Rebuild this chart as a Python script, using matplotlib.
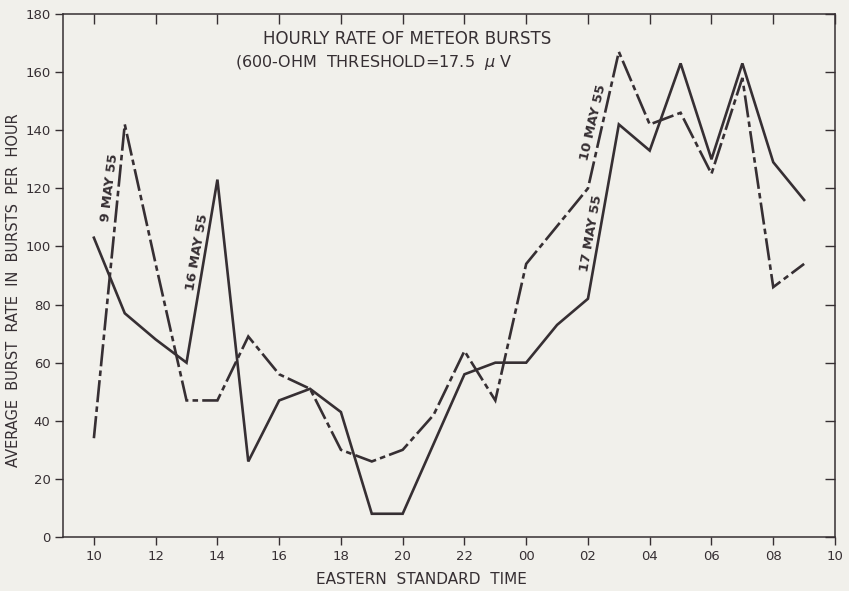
import numpy as np
import matplotlib.pyplot as plt

# ============================================
# DATA
# ============================================
hours = list(range(10, 34))          # 10 h ... 09 h next day
may_9_10 = [34, 142, 94, 47, 47, 69, 56, 51, 30, 26, 30, 42,
            64, 47, 94, 107, 120, 167, 142, 146, 125, 158, 86, 94]
may_16_17 = [103, 77, 68, 60, 123, 26, 47, 51, 43, 8, 8, 32,
             56, 60, 60, 73, 82, 142, 133, 163, 130, 163, 129, 116]

xtick_pos = list(range(10, 35, 2))
xtick_labels = ['10', '12', '14', '16', '18', '20', '22',
                '00', '02', '04', '06', '08', '10']
ytick_pos = list(range(0, 181, 20))

ink = '#362f33'
paper = '#f1f0eb'

plt.rcParams['font.family'] = ['DejaVu Sans']
plt.rcParams['lines.scale_dashes'] = False

fig = plt.figure(figsize=(8.49, 5.91), dpi=100, facecolor=paper)
ax = fig.add_axes([63/849, 1 - 537/591, (835 - 63)/849, (537 - 14)/591])
ax.set_facecolor(paper)

ax.plot(hours, may_16_17, color=ink, lw=1.9, solid_joinstyle='miter')
ax.plot(hours, may_9_10, color=ink, lw=1.9, dashes=(16, 3, 4, 3),
        dash_joinstyle='miter')

ax.set_xlim(9, 34)
ax.set_ylim(0, 180)
ax.set_xticks(xtick_pos)
ax.set_xticklabels(xtick_labels)
ax.set_yticks(ytick_pos)

for s in ax.spines.values():
    s.set_color(ink)
    s.set_linewidth(1.1)

ax.tick_params(axis='both', colors=ink, labelcolor=ink, labelsize=9.5,
               length=6, width=1.0, direction='out', pad=3)
# mirrored ticks on top and right point inward
sec_x = ax.secondary_xaxis('top')
sec_x.set_xticks(xtick_pos)
sec_x.tick_params(direction='in', length=7, width=1.0, colors=ink, labeltop=False)
sec_y = ax.secondary_yaxis('right')
sec_y.set_yticks(ytick_pos)
sec_y.tick_params(direction='in', length=7, width=1.0, colors=ink, labelright=False)
for s in list(sec_x.spines.values()) + list(sec_y.spines.values()):
    s.set_visible(False)

# labels
fig.text(421/849, 1 - 580/591, 'EASTERN  STANDARD  TIME', ha='center', va='center',
         fontsize=11, color=ink)
fig.text(14/849, 1 - 290/591, 'AVERAGE  BURST  RATE  IN  BURSTS  PER  HOUR',
         rotation=90, ha='center', va='center', fontsize=10.5, color=ink)

# title inside the plot
ax.text(407/849, 1 - 39/591, 'HOURLY RATE OF METEOR BURSTS', transform=fig.transFigure,
        ha='center', va='center', fontsize=12, color=ink)
ax.text(235/849, 1 - 62/591, '(600-OHM  THRESHOLD=17.5  $\\mu$ V', transform=fig.transFigure,
        ha='left', va='center', fontsize=11.5, color=ink)

# date labels along the curves
ax.text(110/849, 1 - 188/591, '9 MAY 55', transform=fig.transFigure, rotation=83,
        ha='center', va='center', fontsize=9.5, color=ink, fontweight='bold')
ax.text(197/849, 1 - 252/591, '16 MAY 55', transform=fig.transFigure, rotation=80,
        ha='center', va='center', fontsize=9.5, color=ink, fontweight='bold')
ax.text(593/849, 1 - 122/591, '10 MAY 55', transform=fig.transFigure, rotation=77,
        ha='center', va='center', fontsize=9.5, color=ink, fontweight='bold')
ax.text(591/849, 1 - 233/591, '17 MAY 55', transform=fig.transFigure, rotation=80,
        ha='center', va='center', fontsize=9.5, color=ink, fontweight='bold')

plt.savefig('out.png', dpi=100, facecolor=paper)
